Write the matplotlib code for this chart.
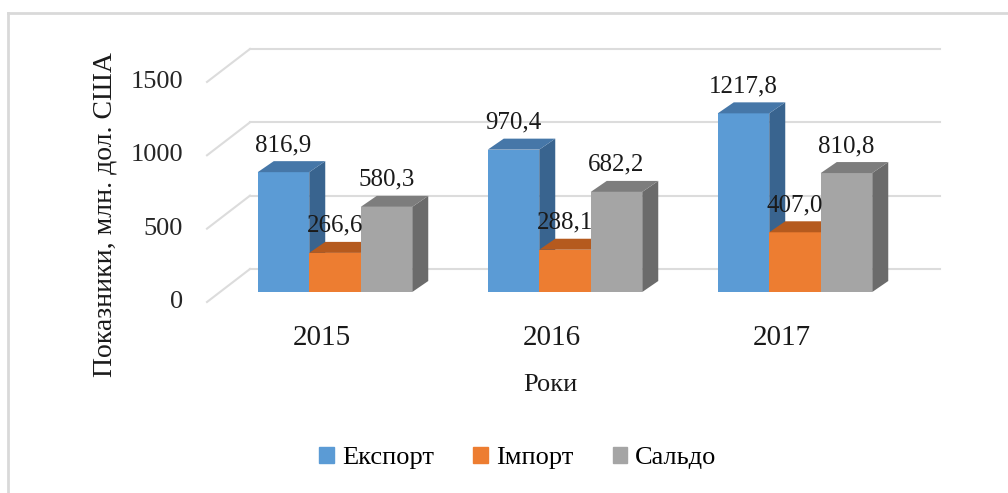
import matplotlib
matplotlib.use("Agg")
import matplotlib.pyplot as plt
from matplotlib.lines import Line2D
from matplotlib.patches import Patch

plt.rcParams['font.family'] = ['Liberation Serif', 'DejaVu Serif']

# data
years = ['2015', '2016', '2017']
series = ['Експорт', 'Імпорт', 'Сальдо']
export = [816.9, 970.4, 1217.8]
imports = [266.6, 288.1, 407.0]
saldo = [580.3, 682.2, 810.8]
yticks = [0, 500, 1000, 1500]

front_cols = ['#5B9BD5', '#ED7D31', '#A5A5A5']
top_cols = ['#4677A8', '#B55A1E', '#7D7D7D']
side_cols = ['#39648F', '#A04F1A', '#6B6B6B']

# layout (pixels)
W, H = 1008, 493
PXX = 230.0      # px per category
PXY = 0.1467     # px per value unit
X0, Y0 = 322, 302  # px of category 0 / value 0 on the front plane
L, R, T, B = 190, 960, 20, 310

fig = plt.figure(figsize=(W / 100, H / 100), dpi=100)
ax = fig.add_axes([L / W, (H - B) / H, (R - L) / W, (B - T) / H])
ax.set_xlim((L - X0) / PXX, (R - X0) / PXX)
ax.set_ylim((Y0 - B) / PXY, (Y0 - T) / PXY)
ax.axis('off')


def dx(px):
    return px / PXX


def dy(px):
    return px / PXY


# back wall gridlines + left wall diagonals
grid_c = '#DCDCDC'
for v in yticks:
    ax.plot([-0.5 + dx(43), 2.5 + dx(43)], [v + dy(33), v + dy(33)], color=grid_c, lw=1.5, zorder=1)
    ax.plot([-0.5, -0.5 + dx(43)], [v, v + dy(33)], color=grid_c, lw=1.5, zorder=1)
    ax.annotate(str(v), xy=(-0.5, v), xytext=(-24, 0), textcoords='offset pixels',
                ha='right', va='center', fontsize=19, color='#262626')

# bars
bw = dx(51.5)
bx, by = dx(13), dy(10)    # bar plane offset
ddx, ddy = dx(16), dy(11)  # bar depth
z = 2
for i, yr in enumerate(years):
    for j, vals in enumerate([export, imports, saldo]):
        v = vals[i]
        x0 = i + bx + (j - 1.5) * bw
        ax.bar(x0, v, bw, bottom=by, align='edge', color=front_cols[j], zorder=z)
        top = v + by
        ax.fill([x0, x0 + bw, x0 + bw + ddx, x0 + ddx], [top, top, top + ddy, top + ddy],
                color=top_cols[j], zorder=z, lw=0)
        ax.fill([x0 + bw, x0 + bw, x0 + bw + ddx, x0 + bw + ddx], [by, top, top + ddy, by + ddy],
                color=side_cols[j], zorder=z - 0.5, lw=0)
        z += 1
        ax.annotate(f"{v:.1f}".replace('.', ','), xy=(x0 + bw / 2, top), xytext=(0, 27),
                    textcoords='offset pixels', ha='center', va='center', fontsize=18,
                    color='#1a1a1a', zorder=50)
    ax.annotate(yr, xy=(i, 0), xytext=(0, -36), textcoords='offset pixels',
                ha='center', va='center', fontsize=21, color='#1a1a1a')

fig.text(550 / W, 1 - 385 / H, 'Роки', ha='center', va='center', fontsize=19, color='#1a1a1a')
fig.text(105 / W, 1 - 215 / H, 'Показники, млн. дол. США', rotation=90, ha='center', va='center',
         fontsize=20, color='#1a1a1a')

handles = [Patch(color=c) for c in front_cols]
fig.legend(handles, series, loc='center', bbox_to_anchor=(518 / W, 1 - 458 / H), ncol=3,
           frameon=False, fontsize=19, handlelength=0.55, handleheight=0.55, handletextpad=0.3,
           columnspacing=1.5)

# chart border (left + top)
fig.add_artist(Line2D([8 / W, 8 / W], [0, 1 - 13 / H], color='#D9D9D9', lw=2))
fig.add_artist(Line2D([8 / W, 1], [1 - 13 / H, 1 - 13 / H], color='#D9D9D9', lw=2))

fig.savefig('out.png', dpi=100)
